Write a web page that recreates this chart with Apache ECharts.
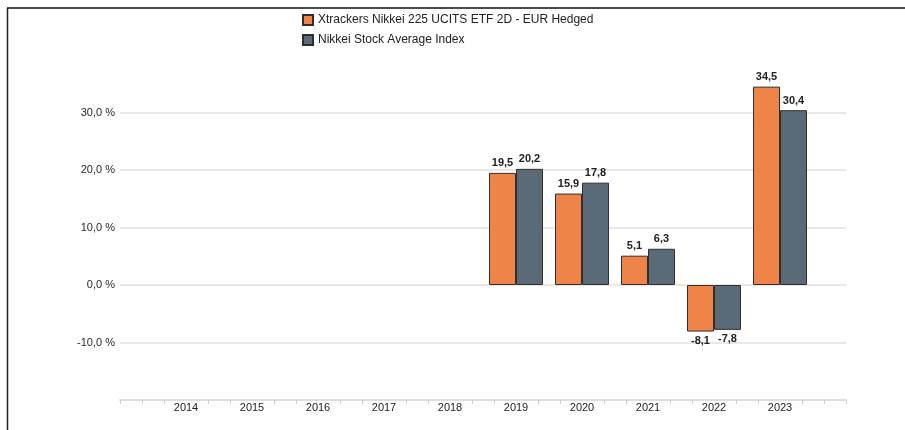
<!DOCTYPE html>
<html>
<head>
<meta charset="utf-8">
<script src="https://cdn.jsdelivr.net/npm/echarts@6/dist/echarts.min.js"></script>
<style>
  html, body { margin: 0; padding: 0; background: #fff; }
  #chart { width: 905px; height: 430px; }
</style>
</head>
<body>
<div id="chart"></div>
<script>
// Jahre und Wertentwicklung in %
const years = [2014, 2015, 2016, 2017, 2018, 2019, 2020, 2021, 2022, 2023];
const etfValues = [null, null, null, null, null, 19.5, 15.9, 5.1, -8.1, 34.5];
const indexValues = [null, null, null, null, null, 20.2, 17.8, 6.3, -7.8, 30.4];
const seriesNames = ['Xtrackers Nikkei 225 UCITS ETF 2D - EUR Hedged', 'Nikkei Stock Average Index'];

// x axis runs 2013..2024 in thirds of a year (small ticks every third)
const slots = [];
for (let i = 0; i <= 33; i++) slots.push(i % 3 === 0 ? String(2013 + i / 3) : '');

function toSlots(values) {
  const out = slots.map(() => null);
  years.forEach((y, k) => {
    const v = values[k];
    if (v == null) return;
    out[(y - 2013) * 3] = { value: v, label: { position: v < 0 ? 'bottom' : 'top' } };
  });
  return out;
}

const fmt = v => v.toFixed(1).replace('.', ',');
const isYearSlot = i => i % 3 === 0 && i >= 3 && i <= 30;

const chart = echarts.init(document.getElementById('chart'));
chart.setOption({
  backgroundColor: '#fff',
  animation: false,
  textStyle: { fontFamily: 'Liberation Sans, Arial, sans-serif' },
  legend: {
    orient: 'vertical',
    left: 297,
    top: 9,
    itemGap: 8,
    itemWidth: 10,
    itemHeight: 10,
    icon: 'rect',
    textStyle: { color: '#222', fontSize: 12 },
    data: seriesNames
  },
  grid: { left: 120, right: 59, top: 55, bottom: 30 },
  xAxis: {
    type: 'category',
    data: slots,
    boundaryGap: false,
    axisLine: { onZero: false, lineStyle: { color: '#e2ded6', width: 2 } },
    axisTick: {
      show: true,
      length: 4,
      inside: false,
      interval: (i) => !isYearSlot(i),
      lineStyle: { color: '#d4d0c8', width: 1 }
    },
    axisLabel: {
      interval: (i) => isYearSlot(i),
      margin: 2,
      color: '#222',
      fontSize: 11
    },
    splitLine: { show: false }
  },
  yAxis: {
    type: 'value',
    min: -20,
    max: 40,
    interval: 10,
    axisLine: { show: false },
    axisTick: { show: false },
    axisLabel: {
      margin: 5,
      color: '#2a2a2a',
      fontSize: 11,
      formatter: v => (v <= -20 || v >= 40) ? '' : fmt(v) + ' %'
    },
    splitLine: {
      show: true,
      lineStyle: {
        color: ['rgba(0,0,0,0)', '#e4e1da', '#e4e1da', '#e4e1da', '#e4e1da', '#e4e1da', 'rgba(0,0,0,0)'],
        width: 1.5
      }
    }
  },
  series: [
    {
      name: seriesNames[0],
      type: 'bar',
      data: toSlots(etfValues),
      barWidth: 27,
      barGap: '0%',
      itemStyle: { color: '#ef8448', borderColor: '#2e2e2e', borderWidth: 1 },
      label: { show: true, distance: 4, color: '#222', fontSize: 11, fontWeight: 'bold', formatter: p => fmt(p.value) }
    },
    {
      name: seriesNames[1],
      type: 'bar',
      data: toSlots(indexValues),
      barWidth: 27,
      barGap: '0%',
      itemStyle: { color: '#5a6a76', borderColor: '#2e2e2e', borderWidth: 1 },
      label: { show: true, distance: 4, color: '#222', fontSize: 11, fontWeight: 'bold', formatter: p => fmt(p.value) }
    }
  ],
  graphic: [
    { type: 'line', shape: { x1: 7, y1: 8, x2: 905, y2: 8 }, style: { stroke: '#111', lineWidth: 1.5 } },
    { type: 'line', shape: { x1: 7.5, y1: 8, x2: 7.5, y2: 430 }, style: { stroke: '#222', lineWidth: 1.5 } }
  ]
});
</script>
</body>
</html>
